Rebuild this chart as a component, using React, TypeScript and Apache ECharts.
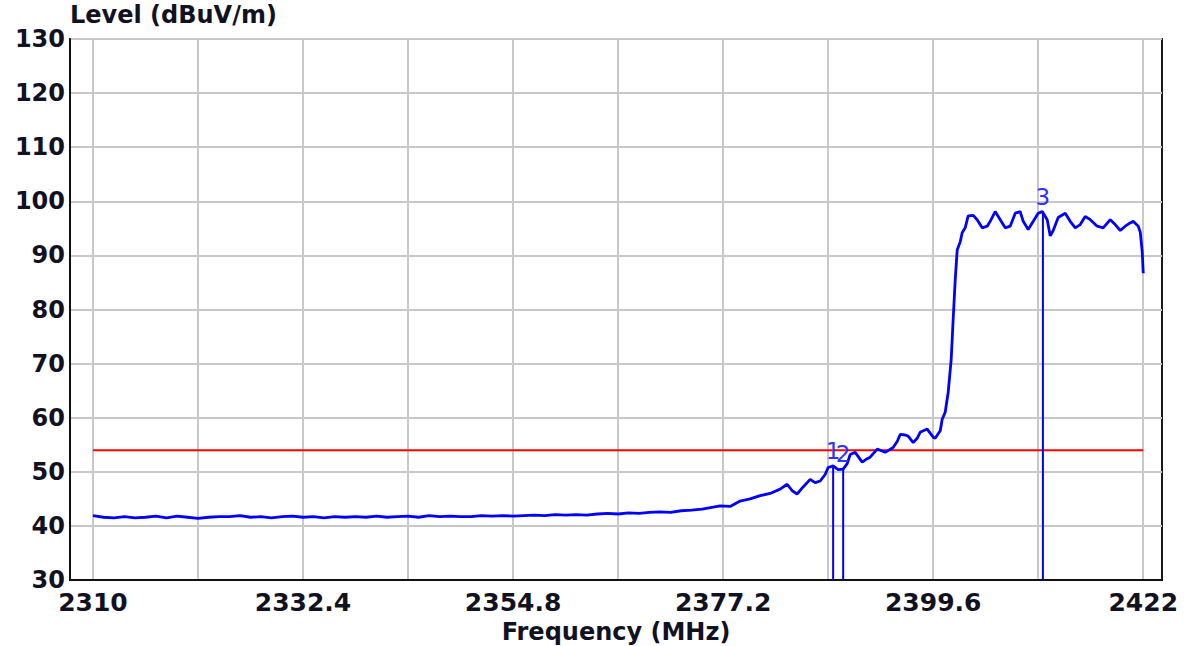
import React, { useEffect, useRef } from "react";
import * as echarts from "echarts";

// ---- Data ----
const traceFreqMHz: number[] = [
  2310.00, 2311.12, 2312.24, 2313.36, 2314.48, 2315.60, 2316.72, 2317.84, 2318.96, 2320.08,
  2321.20, 2322.32, 2323.44, 2324.56, 2325.68, 2326.80, 2327.92, 2329.04, 2330.16, 2331.28,
  2332.40, 2333.52, 2334.64, 2335.76, 2336.88, 2338.00, 2339.12, 2340.24, 2341.36, 2342.48,
  2343.60, 2344.72, 2345.84, 2346.96, 2348.08, 2349.20, 2350.32, 2351.44, 2352.56, 2353.68,
  2354.80, 2355.92, 2357.04, 2358.16, 2359.28, 2360.40, 2361.52, 2362.64, 2363.76, 2364.88,
  2366.00, 2367.12, 2368.24, 2369.36, 2370.48, 2371.60, 2372.72, 2373.84, 2374.96,
  2376.88, 2377.95, 2379.01, 2380.08, 2381.15, 2382.21, 2383.28, 2384.03, 2384.56, 2385.09,
  2385.73, 2386.48, 2387.01, 2387.55, 2388.08, 2388.40, 2388.93, 2389.47, 2390.00, 2390.43,
  2390.75, 2391.28, 2392.03, 2392.45, 2392.88, 2393.63, 2394.48, 2395.33, 2395.76, 2396.08,
  2396.61, 2396.93, 2397.47, 2397.89, 2398.21, 2398.96, 2399.60, 2399.81, 2400.35, 2400.56,
  2400.88, 2401.20, 2401.52, 2401.73, 2401.95, 2402.16, 2402.48, 2402.69, 2403.01, 2403.33,
  2403.87, 2404.29, 2404.83, 2405.36, 2405.68, 2406.21, 2406.75, 2407.28, 2407.81, 2408.35,
  2408.88, 2409.20, 2409.73, 2410.27, 2410.80, 2411.23, 2411.76, 2412.08, 2412.40, 2412.93,
  2413.68, 2414.21, 2414.75, 2415.28, 2415.81, 2416.35, 2417.09, 2417.73, 2418.48, 2419.01,
  2419.55, 2420.08, 2420.61, 2420.93, 2421.47, 2421.68, 2421.89, 2422.00,
];

const traceLevel: number[] = [
  41.9, 41.6, 41.5, 41.7, 41.5, 41.6, 41.8, 41.5, 41.8, 41.6,
  41.4, 41.6, 41.7, 41.7, 41.9, 41.6, 41.7, 41.5, 41.7, 41.8,
  41.6, 41.7, 41.5, 41.7, 41.6, 41.7, 41.6, 41.8, 41.6, 41.7,
  41.8, 41.6, 41.9, 41.7, 41.8, 41.7, 41.7, 41.9, 41.8, 41.9,
  41.8, 41.9, 42.0, 41.9, 42.1, 42.0, 42.1, 42.0, 42.2, 42.3,
  42.2, 42.4, 42.3, 42.5, 42.6, 42.5, 42.8, 42.9, 43.1,
  43.7, 43.6, 44.6, 45.0, 45.6, 46.0, 46.8, 47.7, 46.5, 45.9,
  47.2, 48.6, 48.0, 48.3, 49.5, 50.8, 51.1, 50.4, 50.5, 51.5,
  53.2, 53.6, 51.8, 52.3, 52.7, 54.2, 53.6, 54.5, 55.6, 56.9,
  56.8, 56.6, 55.4, 56.2, 57.3, 57.9, 56.4, 56.2, 57.6, 59.7,
  61.0, 64.7, 70.8, 78.2, 85.5, 91.0, 92.5, 94.2, 95.1, 97.3,
  97.4, 96.6, 95.1, 95.4, 96.3, 98.1, 96.6, 95.1, 95.4, 97.8,
  98.1, 96.3, 94.8, 96.3, 97.8, 98.1, 96.6, 93.6, 94.6, 97.0,
  97.8, 96.3, 95.1, 95.7, 97.2, 96.6, 95.4, 95.1, 96.6, 95.7,
  94.6, 95.4, 96.0, 96.3, 95.4, 94.3, 90.7, 86.7,
];

const markerNames: string[] = ["1", "2", "3"];
const markerFreqMHz: number[] = [2388.93, 2390.0, 2411.3];
const markerLevel: number[] = [51.1, 50.5, 98.1];

const limitLevel = 54;
const limitFreqRange: number[] = [2310, 2422];

const xGridValues: number[] = [
  2310, 2321.2, 2332.4, 2343.6, 2354.8, 2366, 2377.2, 2388.4, 2399.6, 2410.8, 2422,
];
const xLabelValues: number[] = [2310, 2332.4, 2354.8, 2377.2, 2399.6, 2422];
const yMin = 30;
const yMax = 130;
const yStep = 10;

const xAxisTitle = "Frequency (MHz)";
const yAxisTitle = "Level (dBuV/m)";

export default function App() {
  const ref = useRef<HTMLDivElement>(null);

  useEffect(() => {
    document.body.style.margin = "0";
    if (!ref.current) return;
    const chart = echarts.init(ref.current, undefined, { renderer: "svg" });

    const trace = traceFreqMHz.map((f, i) => [f, traceLevel[i]]);
    const markerLineSeries = markerFreqMHz.map((f, i) => ({
      type: "line",
      data: [
        [f, markerLevel[i]],
        [f, yMin],
      ],
      showSymbol: false,
      silent: true,
      z: 4,
      lineStyle: { color: "#0000ff", width: 2 },
    }));

    const textColor = "#111122";

    chart.setOption({
      animation: false,
      backgroundColor: "#ffffff",
      grid: {
        left: 70,
        right: 30,
        top: 39,
        bottom: 66,
        outerBoundsMode: "none",
        containLabel: false,
        show: true,
        borderColor: "#1a1a1a",
        borderWidth: 2,
        backgroundColor: "#ffffff",
      },
      xAxis: {
        type: "value",
        min: 2307.55,
        max: 2424.0,
        name: xAxisTitle,
        nameLocation: "middle",
        nameGap: 36,
        nameTextStyle: {
          fontFamily: "DejaVu Sans",
          fontWeight: "bold",
          fontSize: 24,
          color: textColor,
        },
        axisLine: { show: true, onZero: false, lineStyle: { color: "#111", width: 2 } },
        axisTick: { show: false, customValues: xGridValues },
        splitLine: { show: true, lineStyle: { color: "#c8c8c8", width: 2 } },
        axisLabel: {
          customValues: xLabelValues,
          margin: 10,
          fontFamily: "DejaVu Sans",
          fontWeight: "bold",
          fontSize: 25,
          color: textColor,
          hideOverlap: false,
          formatter: (v: number) => String(Math.round(v * 10) / 10),
        },
      },
      yAxis: {
        type: "value",
        min: yMin,
        max: yMax,
        interval: yStep,
        name: yAxisTitle,
        nameLocation: "end",
        nameGap: 2,
        nameTextStyle: {
          fontFamily: "DejaVu Sans",
          fontWeight: "bold",
          fontSize: 24,
          color: textColor,
          align: "left",
          verticalAlign: "bottom",
        },
        axisLine: { show: true, lineStyle: { color: "#111", width: 2 } },
        axisTick: { show: false },
        splitLine: { show: true, lineStyle: { color: "#c8c8c8", width: 2 } },
        axisLabel: {
          margin: 5,
          fontFamily: "DejaVu Sans",
          fontWeight: "bold",
          fontSize: 24,
          color: textColor,
          showMinLabel: true,
          showMaxLabel: true,
        },
      },
      series: [
        {
          type: "line",
          data: limitFreqRange.map((f) => [f, limitLevel]),
          showSymbol: false,
          silent: true,
          z: 2,
          lineStyle: { color: "#ff0000", width: 2 },
        },
        {
          type: "line",
          data: trace,
          showSymbol: false,
          silent: true,
          z: 3,
          lineStyle: { color: "#0000ff", width: 2.8 },
        },
        ...markerLineSeries,
        {
          type: "scatter",
          data: markerFreqMHz.map((f, i) => [f, markerLevel[i], markerNames[i]]),
          symbolSize: 1,
          itemStyle: { color: "rgba(255,255,255,0)" },
          silent: true,
          z: 5,
          labelLayout: { hideOverlap: false },
          label: {
            show: true,
            position: "top",
            distance: 3,
            formatter: (p: any) => p.data[2],
            fontFamily: "DejaVu Sans",
            fontSize: 23,
            color: "#3030ff",
            opacity: 1,
          },
        },
      ],
    });

    return () => chart.dispose();
  }, []);

  return (
    <div
      ref={ref}
      style={{ position: "absolute", left: 0, top: 0, width: 1192, height: 646 }}
    />
  );
}
